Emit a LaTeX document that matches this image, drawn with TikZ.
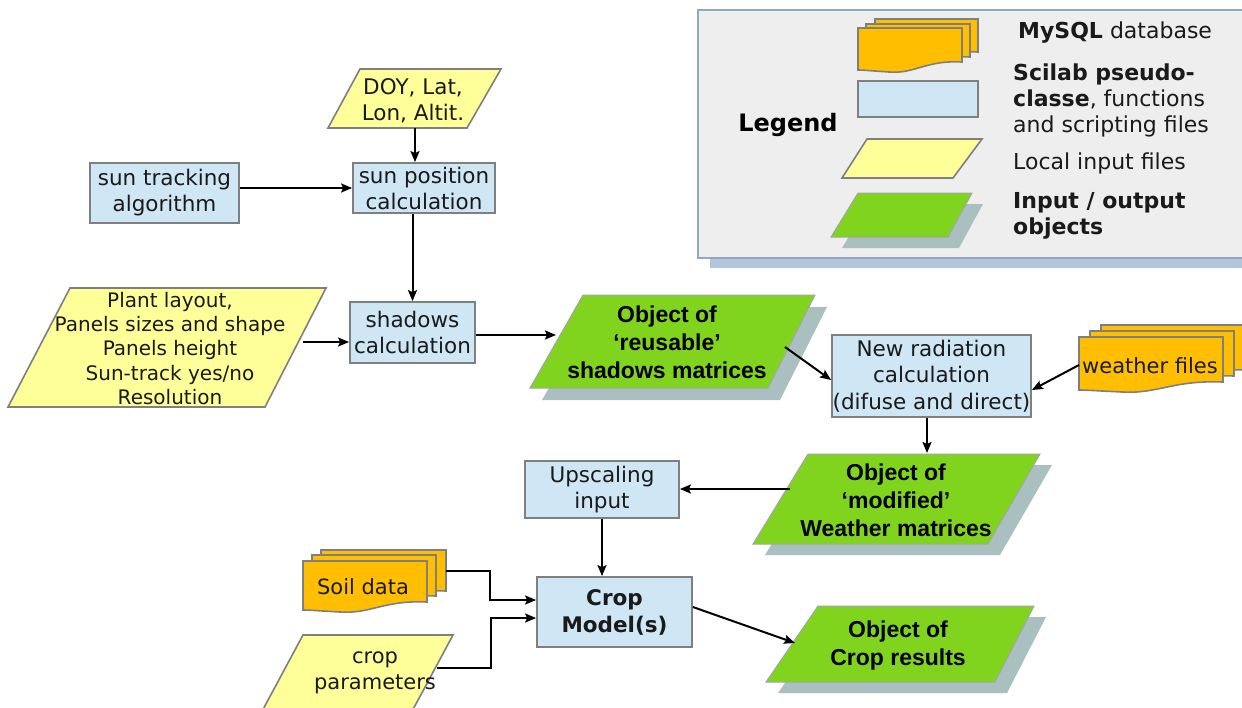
\documentclass[tikz,border=0pt]{standalone}
\usepackage{fontspec}
\setmainfont{DejaVu Sans}
\newfontfamily\lib{Liberation Sans}
\usetikzlibrary{arrows.meta,calc}
\definecolor{boxblue}{HTML}{CFE6F5}
\definecolor{bgrey}{HTML}{7F7F7F}
\definecolor{yel}{HTML}{FFFF99}
\definecolor{grn}{HTML}{80D41E}
\definecolor{gshad}{HTML}{AABFBF}
\definecolor{orng}{HTML}{FFBF00}
\definecolor{txt}{HTML}{1A1A1A}
\definecolor{legbg}{HTML}{EEEEEE}
\definecolor{legborder}{HTML}{94A6C4}
\definecolor{legshadow}{HTML}{B4C6DC}
\newcommand{\mdoc}[4]{%
  \path[docst] (#1,#2) -- (#3,#2) -- (#3,#4)
    .. controls ({#3-0.35*(#3-#1)},{#4-2}) and ({#1+0.55*(#3-#1)},{#4+12}) .. ({#1+0.3*(#3-#1)},{#4+10})
    .. controls ({#1+0.15*(#3-#1)},{#4+9}) and ({#1+0.05*(#3-#1)},{#4+8}) .. (#1,{#4+8}) -- cycle;}
\begin{document}
\begin{tikzpicture}[x=1pt,y=-1pt,
  bbox/.style={draw=bgrey, line width=1.8pt, fill=boxblue, inner sep=0pt, align=center,
    font=\fontsize{21.5}{26}\selectfont, text=txt},
  ypara/.style={draw=bgrey, line width=1.6pt, fill=yel},
  gpara/.style={draw=bgrey!70, line width=1pt, fill=grn},
  gsh/.style={fill=gshad},
  docst/.style={draw=bgrey, line width=1.6pt, fill=orng},
  conn/.style={-{Stealth[length=11pt,width=9pt,inset=2pt]}, line width=2pt, black},
  lbl/.style={align=center, inner sep=0pt, text=txt, font=\fontsize{21.5}{26}\selectfont},
  gtxt/.style={align=center, inner sep=0pt, text=black, font=\lib\bfseries\fontsize{23}{28}\selectfont},
  ltxt/.style={align=left, anchor=west, inner sep=0pt, text=txt, font=\fontsize{22}{26}\selectfont}]
\clip (0,0) rectangle (1242,707);
\fill[white] (0,0) rectangle (1242,707);

% ---------- legend ----------
\fill[legshadow] (710,18) rectangle (1260,268);
\filldraw[fill=legbg, draw=legborder, line width=1.5pt] (698,10) rectangle (1260,258);
\node[inner sep=0pt, text=black, font=\bfseries\fontsize{24}{28}\selectfont] (legend) at (788,125) {Legend};
\mdoc{875}{19}{978}{52}
\mdoc{866}{24}{970}{57}
\mdoc{858}{28}{962}{62}
\path[draw=bgrey, line width=1.6pt, fill=boxblue] (858,81) rectangle (978,117);
\path[ypara] (867,139) -- (982,139) -- (953,178) -- (842,178) -- cycle;
\path[gsh] (869,204) -- (983,204) -- (959,248) -- (842,248) -- cycle;
\path[gpara] (858,193) -- (972,193) -- (948,237) -- (831,237) -- cycle;
\node[ltxt] (l1) at (1018,33) {\textbf{MySQL} database};
\node[ltxt] (l2) at (1013,100) {\textbf{Scilab pseudo-}\\\textbf{classe}, functions\\and scripting files};
\node[ltxt] (l3) at (1013,163) {Local input files};
\node[ltxt] (l4) at (1013,216) {\textbf{Input / output}\\\textbf{objects}};

% ---------- blue boxes ----------
\node[bbox, minimum width=149pt, minimum height=60pt] (track) at (164.5,193) {sun tracking\\algorithm};
\node[bbox, minimum width=142pt, minimum height=50pt] (sunpos) at (424,188) {sun position\\calculation};
\node[bbox, minimum width=125pt, minimum height=61pt] (shadows) at (412.5,332.5) {shadows\\calculation};
\node[bbox, minimum width=199pt, minimum height=82pt, font=\fontsize{21.5}{26.5}\selectfont] (newrad) at (931.5,376) {New radiation\\calculation\\(difuse and direct)};
\node[bbox, minimum width=154pt, minimum height=57pt] (upscale) at (602,489.5) {Upscaling\\input};
\node[bbox, minimum width=155pt, minimum height=70pt, font=\bfseries\fontsize{21.5}{27}\selectfont] (crop) at (614.5,612) {Crop\\Model(s)};

% ---------- yellow inputs ----------
\path[ypara] (360,69) -- (501,69) -- (467,128) -- (328,128) -- cycle;
\node[lbl] (doy) at (413,100.5) {DOY, Lat,\\Lon, Altit.};
\path[ypara] (70,288) -- (326,288) -- (265,407) -- (8,407) -- cycle;
\node[lbl, font=\fontsize{20}{24.3}\selectfont] (plant) at (170,348.5) {Plant layout,\\Panels sizes and shape\\Panels height\\Sun-track yes/no\\Resolution};
\path[ypara] (303,635) -- (453,635) -- (410,715) -- (260,715) -- cycle;
\node[lbl, font=\fontsize{21}{26}\selectfont] (cparam) at (375,673) {crop\\parameters};

% ---------- orange multi-documents ----------
\mdoc{1101}{325}{1248}{370}
\mdoc{1090}{331}{1234}{376}
\mdoc{1079}{337}{1223}{382}
\node[lbl, font=\fontsize{21}{26}\selectfont] (weather) at (1150,366) {weather files};
\mdoc{321}{550}{446}{591}
\mdoc{312}{555}{436}{596}
\mdoc{303}{561}{427}{602}
\node[lbl, font=\fontsize{21}{26}\selectfont] (soil) at (363,587) {Soil data};

% ---------- green objects ----------
\path[gsh] (595,307) -- (827,307) -- (780,400) -- (542,400) -- cycle;
\path[gpara] (583,295) -- (815,295) -- (768,388) -- (530,388) -- cycle;
\node[gtxt] (reuse) at (667,342.5) {Object of\\‘reusable’\\shadows matrices};
\path[gsh] (820,465) -- (1052,465) -- (1000,555) -- (765,555) -- cycle;
\path[gpara] (808,454) -- (1040,454) -- (988,544) -- (753,544) -- cycle;
\node[gtxt] (modif) at (896,500) {Object of\\‘modified’\\Weather matrices};
\path[gsh] (830,617) -- (1046,617) -- (1007,693) -- (778,693) -- cycle;
\path[gpara] (818,606) -- (1034,606) -- (995,682) -- (766,682) -- cycle;
\node[gtxt] (results) at (898,646) {Object of\\Crop results};

% ---------- connectors ----------
\coordinate (doyout) at (415,128);
\draw[conn] (doyout) -- (doyout |- sunpos.north);
\draw[conn] (track.east |- sunpos.west) -- (sunpos.west);
\draw[conn] (shadows.north |- sunpos.south) -- (shadows.north);
\coordinate (plantout) at (303,342);
\draw[conn] (plantout) -- (plantout -| shadows.west);
\coordinate (reusein) at (556,335);
\draw[conn] (reusein -| shadows.east) -- (reusein);
\coordinate (reuseout) at (785,347);
\draw[conn] (reuseout) -- ([yshift=-4pt]newrad.west);
\coordinate (weatherout) at (1079,365);
\draw[conn] (weatherout) -- ([yshift=-14pt]newrad.east);
\coordinate (modtop) at (927,453);
\draw[conn] (modtop |- newrad.south) -- (modtop);
\coordinate (modout) at (790,489);
\draw[conn] (modout) -- (modout -| upscale.east);
\draw[conn] (upscale.south) -- (upscale.south |- crop.north);
\coordinate (soilout) at (446,571);
\coordinate (soilin) at ([yshift=12pt]crop.west);
\draw[conn] (soilout) -| ($(soilin)+(-46,0)$) -- (soilin);
\coordinate (cpout) at (437,668);
\coordinate (cpin) at ([yshift=-6pt]crop.west);
\draw[conn] (cpout) -| ($(cpin)+(-45,0)$) -- (cpin);
\coordinate (resin) at (795,643);
\draw[conn] ([yshift=5pt]crop.east) -- (resin);
\end{tikzpicture}
\end{document}
